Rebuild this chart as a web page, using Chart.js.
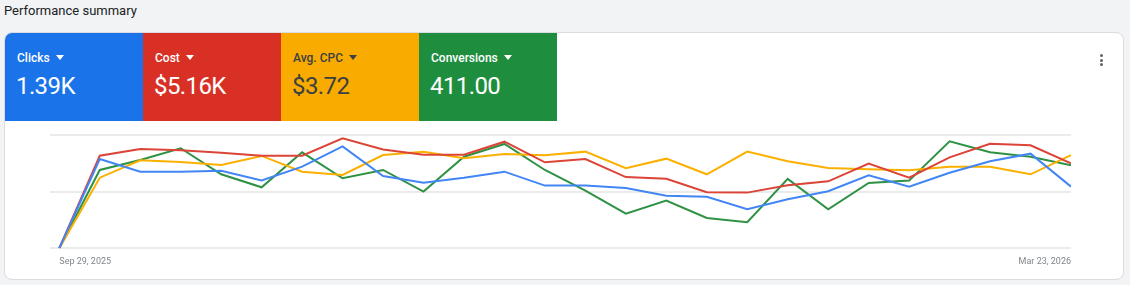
<!DOCTYPE html>
<html>
<head>
<meta charset="utf-8">
<script src="https://cdn.jsdelivr.net/npm/chart.js@4"></script>
<style>
  body{ margin:0; width:1130px; height:285px; background:#f1f3f4; font-family:Roboto, "Noto Sans", sans-serif; position:relative; overflow:hidden; }
  .titre{ position:absolute; left:4px; top:3px; font-size:13px; color:#202124; }
  .carte{ position:absolute; left:4px; top:32px; width:1118px; height:246px; background:#fff; border:1px solid #dadce0; border-radius:8px; overflow:hidden; }
  .tuile{ position:absolute; top:0; width:138px; height:88px; color:#fff; }
  .tuile .lib{ position:absolute; left:12px; top:18px; font-size:12px; font-weight:500; }
  .tuile .lib::after{ content:''; display:inline-block; margin-left:6px; vertical-align:2px; border-left:4.5px solid transparent; border-right:4.5px solid transparent; border-top:5px solid currentColor; }
  .tuile .val{ position:absolute; left:11px; top:39px; font-size:24px; letter-spacing:-0.6px; }
  .menu{ position:absolute; left:1100px; top:54px; width:4px; }
  .menu i{ display:block; width:3px; height:3px; border-radius:50%; background:#5f6368; margin-bottom:1.5px; }
  #boite{ position:absolute; left:40px; top:125px; width:1041px; height:150px; }
</style>
</head>
<body>
<div class="titre">Performance summary</div>
<div class="carte">
  <div class="tuile" style="left:0;background:#1a73e8"><span class="lib">Clicks</span><span class="val">1.39K</span></div>
  <div class="tuile" style="left:138px;background:#d93025"><span class="lib">Cost</span><span class="val">$5.16K</span></div>
  <div class="tuile" style="left:276px;background:#f9ab00;color:#3c4043"><span class="lib">Avg. CPC</span><span class="val">$3.72</span></div>
  <div class="tuile" style="left:414px;background:#1e8e3e"><span class="lib">Conversions</span><span class="val">411.00</span></div>
</div>
<div class="menu"><i></i><i></i><i></i></div>
<div id="boite"><canvas id="graph"></canvas></div>
<script>
/* semaines (lundi) du 29 sept. 2025 au 23 mars 2026 */
const semaines = ['Sep 29, 2025','Oct 6, 2025','Oct 13, 2025','Oct 20, 2025','Oct 27, 2025','Nov 3, 2025','Nov 10, 2025',
  'Nov 17, 2025','Nov 24, 2025','Dec 1, 2025','Dec 8, 2025','Dec 15, 2025','Dec 22, 2025','Dec 29, 2025','Jan 5, 2026',
  'Jan 12, 2026','Jan 19, 2026','Jan 26, 2026','Feb 2, 2026','Feb 9, 2026','Feb 16, 2026','Feb 23, 2026','Mar 2, 2026',
  'Mar 9, 2026','Mar 16, 2026','Mar 23, 2026'];

/* valeurs normalisées (0-100) */
const clics = [0,78.8,67.6,67.6,68.5,59.9,72.0,90.0,63.8,57.9,62.3,67.6,55.3,55.3,53.2,46.4,45.5,34.4,43.2,50.3,64.4,54.4,66.7,76.8,83.5,54.4];
const cout = [0,81.7,87.6,86.5,84.4,81.7,81.7,97.1,87.2,82.6,82.6,94.1,75.9,78.8,62.8,61.4,49.4,49.1,55.6,59.1,74.7,62.3,80.3,92.3,90.9,75.0];
const cpcMoyen = [0,62.3,77.7,76.2,73.5,81.5,67.6,64.7,82.3,85.3,79.4,83.2,82.1,85.3,70.6,79.1,65.3,85.3,76.8,70.9,69.7,68.8,72.0,72.0,65.3,82.3];
const conversions = [0,69.1,77.9,88.3,65.3,53.8,84.7,61.8,69.1,50.0,80.8,92.1,69.1,50.8,30.5,42.0,26.7,22.9,61.2,34.4,57.6,59.7,94.4,84.7,80.8,73.3];

const pts = arr => arr.map((v, i) => ({ x:i, y:v }));
const serie = (label, data, couleur) => ({ label, data:pts(data), borderColor:couleur, backgroundColor:couleur,
  borderWidth:2, pointRadius:0, tension:0 });

new Chart(document.getElementById('graph'), {
  type:'line',
  data:{ datasets:[
    serie('Clicks', clics, '#4285f4'),
    serie('Cost', cout, '#db4437'),
    serie('Avg. CPC', cpcMoyen, '#fbb000'),
    serie('Conversions', conversions, '#2f9144'),
  ]},
  options:{
    responsive:true, maintainAspectRatio:false, animation:false,
    layout:{ padding:{ left:10, right:10, top:10, bottom:0 } },
    plugins:{ legend:{ display:false }, tooltip:{ enabled:false } },
    scales:{
      x:{ type:'linear', min:-0.23, max:semaines.length-1,
        grid:{ display:false, drawTicks:false }, border:{ display:false },
        afterBuildTicks: axe => { axe.ticks = [{ value:0 }, { value:semaines.length-1 }]; },
        ticks:{ align:'inner', maxRotation:0, padding:8, color:'#80868b', font:{ family:'Roboto', size:9 },
          callback: v => semaines[v] } },
      y:{ min:0, max:100, grid:{ color:'#ebebeb', lineWidth:2, drawTicks:false }, border:{ display:false },
        afterBuildTicks: axe => { axe.ticks = [{ value:0 }, { value:50 }, { value:100 }]; },
        ticks:{ display:false } }
    }
  }
});
</script>
</body>
</html>
